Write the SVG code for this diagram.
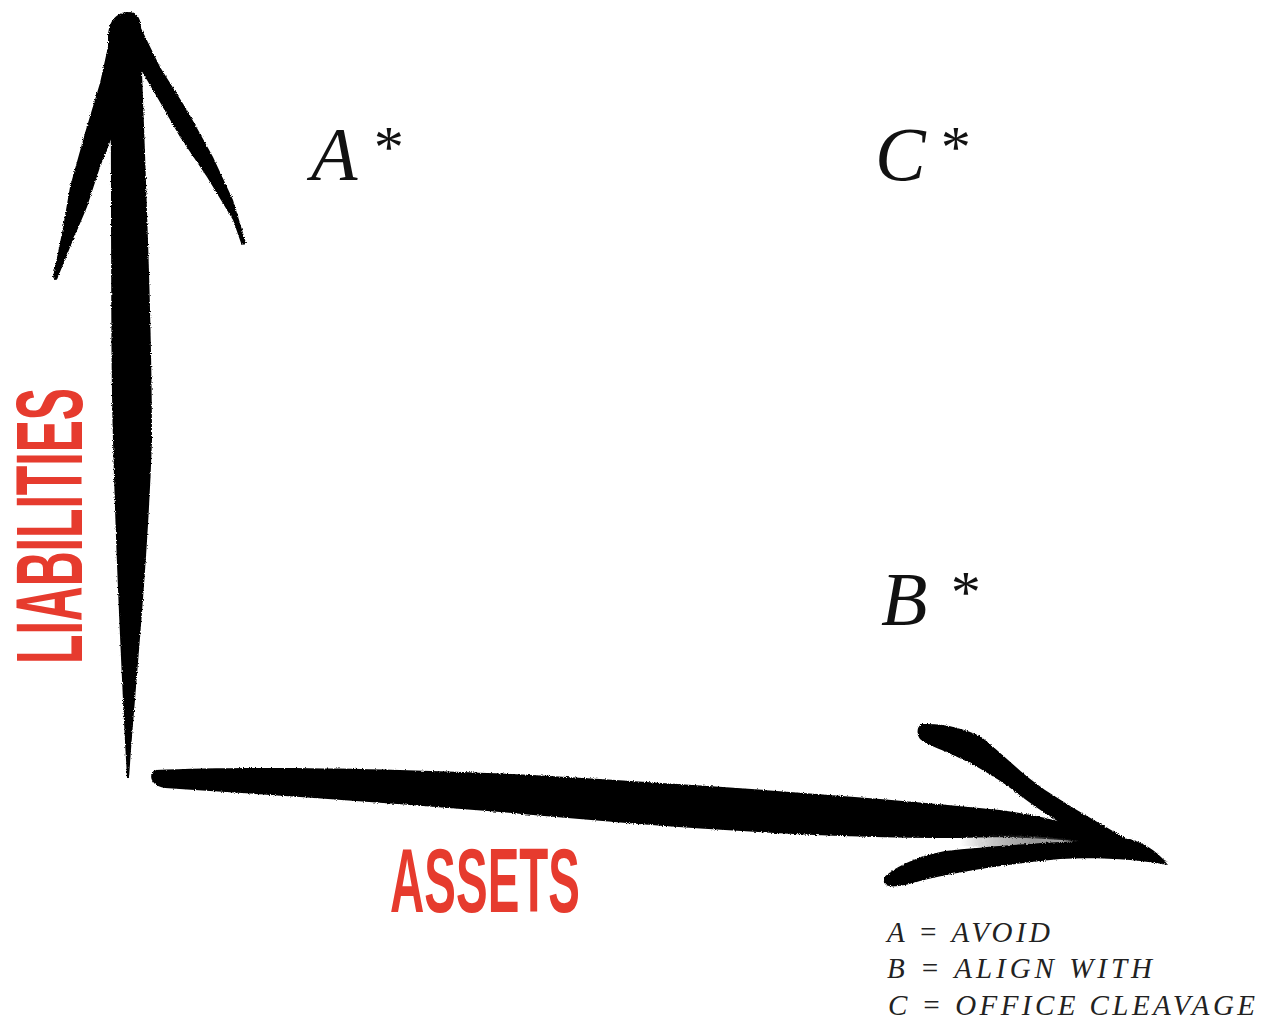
<svg xmlns="http://www.w3.org/2000/svg" width="1268" height="1021" viewBox="0 0 1268 1021">
<style>
.ink{fill:#000}
.mark{font-family:"Liberation Serif","Times New Roman",serif;font-style:italic;font-size:76px;fill:#111}
.star{font-size:60px}
.axis{font-family:"Liberation Sans",Arial,sans-serif;font-weight:bold;fill:#e63b2e}
.legend{font-family:"Liberation Serif","Times New Roman",serif;font-style:italic;font-size:29px;fill:#222}
</style>
<defs>
<filter id="brush" x="-5%" y="-5%" width="110%" height="110%">
<feTurbulence type="fractalNoise" baseFrequency="0.9" numOctaves="2" seed="3" result="n"/>
<feDisplacementMap in="SourceGraphic" in2="n" scale="3" xChannelSelector="R" yChannelSelector="G"/>
</filter>
<linearGradient id="fade" x1="0" y1="0" x2="1" y2="0">
<stop offset="0" stop-color="#000" stop-opacity="0"/>
<stop offset="0.5" stop-color="#555" stop-opacity="0.6"/>
<stop offset="1" stop-color="#000" stop-opacity="0.2"/>
</linearGradient>
</defs>
<rect width="1268" height="1021" fill="#fff"/>
<g id="connectors" filter="url(#brush)">
<g id="axis-liabilities-arrow">
<path class="ink" d="M110,45 C112,180 110,330 113,440 C116,560 122,680 127,778 L129,778 C136,680 148,560 152,440 C152,330 146,180 141,45 Z"/>
<path class="ink" d="M108,38 C108,20 118,12 128,12 C138,12 142,20 141,32 L143,60 L108,60 Z"/>
<path class="ink" d="M111,33 L100,83 L85,133 L70,187 L62,233 L53,277 C55,281 57,281 58,277 L73,240 L87,207 L100,167 L116,127 Z"/>
<path class="ink" d="M138,22 L160,67 L187,110 L213,157 L233,200 L246,243 C244,246 242,245 241,243 L233,220 L207,177 L180,137 L157,97 L134,58 Z"/>
</g>
<g id="axis-assets-arrow">
<path class="ink" d="M155,770 C250,766 400,768 550,776 C700,785 850,795 1000,810 C1060,818 1110,835 1140,852 L1110,846 C1060,838 1010,836 960,838 C800,838 650,826 500,812 C380,802 260,794 165,788 C150,786 148,774 155,770 Z"/>
<path d="M960,836 C1010,834 1060,836 1110,846 L1100,852 C1050,848 1000,848 960,846 Z" fill="url(#fade)"/>
<path class="ink" d="M922,724 C945,723 965,729 980,736 C1000,751 1020,773 1045,790 C1080,813 1120,835 1168,862 C1140,852 1110,843 1080,834 C1050,818 1030,803 1013,790 C993,775 973,764 953,755 C938,748 925,744 920,739 C916,733 917,726 922,724 Z"/>
<path class="ink" d="M888,874 C900,864 920,856 945,851 C990,846 1060,841 1130,839 C1150,845 1160,855 1168,865 C1140,860 1100,857 1060,859 C1000,865 950,873 920,881 C900,887 886,889 884,882 C883,878 885,876 888,874 Z"/>
</g>
</g>
<g id="label-liabilities">
<text class="axis" transform="translate(82,664) rotate(-90)" font-size="95" textLength="276" lengthAdjust="spacingAndGlyphs">LIABILITIES</text>
</g>
<g id="label-assets">
<text class="axis" x="390" y="912" font-size="90" textLength="190" lengthAdjust="spacingAndGlyphs">ASSETS</text>
</g>
<g id="node-a"><text class="mark" x="311" y="180">A<tspan class="star" x="371" y="167">*</tspan></text></g>
<g id="node-c"><text class="mark" x="875" y="180">C<tspan class="star" x="938" y="167">*</tspan></text></g>
<g id="node-b"><text class="mark" x="881" y="625">B<tspan class="star" x="948" y="612">*</tspan></text></g>
<g id="legend">
<text class="legend" x="887" y="942" textLength="163" lengthAdjust="spacing">A = AVOID</text>
<text class="legend" x="887" y="978" textLength="265" lengthAdjust="spacing">B = ALIGN WITH</text>
<text class="legend" x="888" y="1015" textLength="367" lengthAdjust="spacing">C = OFFICE CLEAVAGE</text>
</g>
</svg>
